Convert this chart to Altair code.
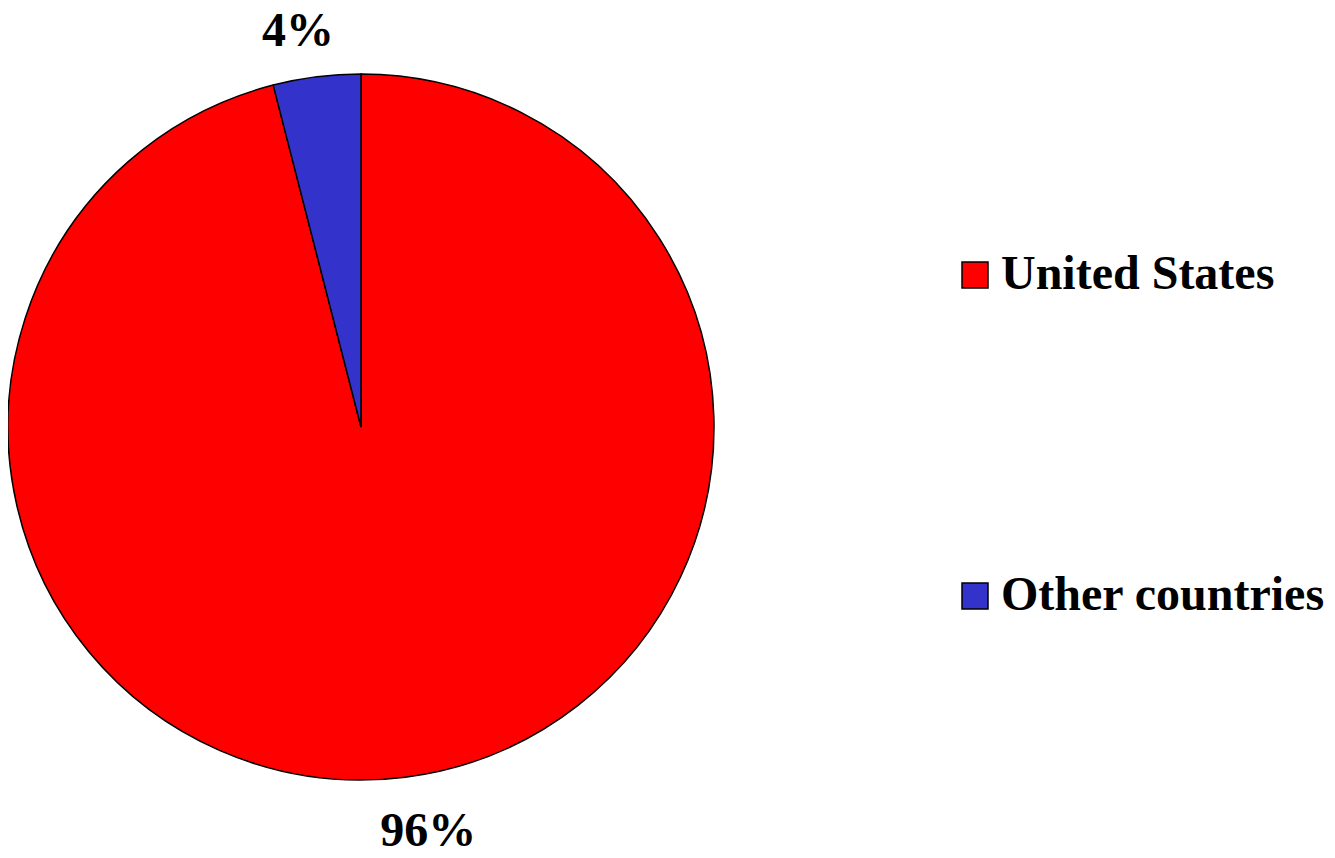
import altair as alt
import pandas as pd

countries = ["United States", "Other countries"]
shares = [96, 4]
labels = ["96%", "4%"]
order = [0, 1]
colors = ["#FF0000", "#3333CC"]

df = pd.DataFrame({"country": countries, "share": shares, "label": labels, "ord": order})

FONT = "Liberation Serif"
CX, CY, R = 353, 419, 353

base = alt.Chart(df).encode(
    theta=alt.Theta("share:Q", stack=True),
    order=alt.Order("ord:Q"),
)

pie = base.mark_arc(stroke="black", strokeWidth=1.5, outerRadius=R).encode(
    x=alt.value(CX),
    y=alt.value(CY),
    color=alt.Color(
        "country:N",
        scale=alt.Scale(domain=countries, range=colors),
        legend=alt.Legend(
            title=None,
            orient="none",
            legendX=943,
            legendY=243,
            symbolType="square",
            symbolSize=676,
            symbolStrokeColor="black",
            symbolStrokeWidth=1.5,
            labelFont=FONT,
            labelFontSize=48,
            labelFontWeight="bold",
            labelColor="black",
            labelOffset=2,
            rowPadding=273,
            padding=0,
            labelLimit=0,
        ),
    ),
)

text_style = dict(font=FONT, fontSize=48, fontWeight="bold", color="black")

text_small = base.mark_text(radius=398, dx=-13, **text_style).encode(
    x=alt.value(CX), y=alt.value(CY), text="label:N",
    opacity=alt.condition(alt.datum.label == "4%", alt.value(1), alt.value(0)),
)

text_big = base.mark_text(radius=408, dx=16, **text_style).encode(
    x=alt.value(CX), y=alt.value(CY), text="label:N",
    opacity=alt.condition(alt.datum.label == "96%", alt.value(1), alt.value(0)),
)

chart = (
    alt.layer(pie, text_small, text_big)
    .properties(width=1319, height=842, padding=0, autosize=alt.AutoSizeParams(type="none"))
    .configure_view(stroke=None)
)

chart.save("out.html", embed_options={"renderer": "svg", "actions": False})
